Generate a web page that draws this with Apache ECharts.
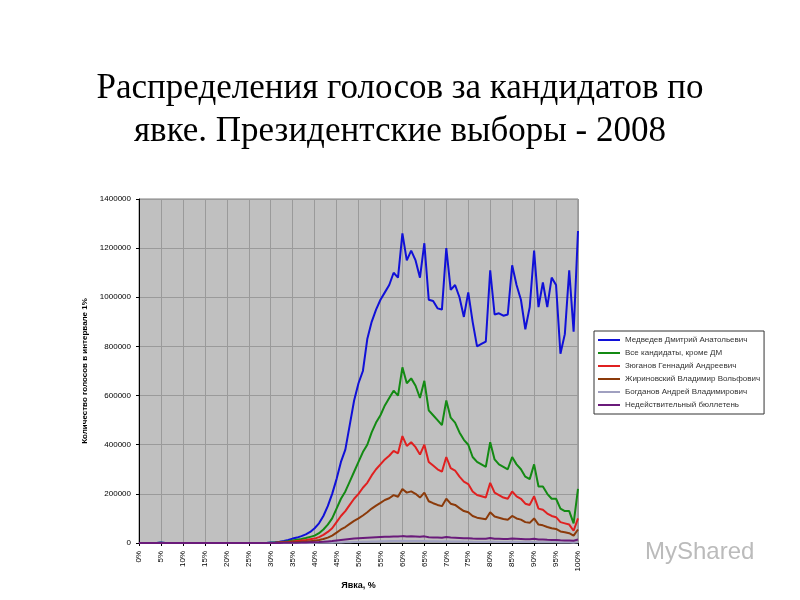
<!DOCTYPE html>
<html><head><meta charset="utf-8">
<script src="https://cdn.jsdelivr.net/npm/echarts@6/dist/echarts.min.js"></script>
<style>body{margin:0;background:#fff}#main{width:800px;height:600px}</style>
</head><body><div id="main"></div>
<script>
const turnout = Array.from({length: 101}, (_, i) => i + "%")
const medvedev = [0,0,0,0,0,2000,0,0,0,0,0,0,0,0,0,0,0,0,0,0,0,0,0,0,0,0,0,0,0,0,
  2000,3000,5000,8000,12000,18000,22000,28000,35000,45000,
  60000,80000,110000,150000,200000,260000,330000,380000,480000,580000,
  650000,700000,830000,900000,950000,990000,1020000,1050000,1100000,1080000,
  1260000,1150000,1190000,1150000,1080000,1220000,990000,985000,955000,950000,
  1200000,1030000,1050000,1000000,920000,1020000,900000,800000,810000,820000,
  1110000,930000,935000,925000,930000,1130000,1050000,990000,870000,960000,
  1190000,960000,1060000,960000,1080000,1050000,770000,850000,1110000,860000,1270000]
const allButDM = [0,0,0,0,0,1000,0,0,0,0,0,0,0,0,0,0,0,0,0,0,0,0,0,0,0,0,0,0,0,0,
  1000,2000,3000,5000,7000,10000,13000,16000,20000,25000,
  30000,40000,55000,75000,100000,140000,180000,210000,250000,290000,
  330000,370000,400000,450000,490000,520000,560000,590000,620000,600000,
  715000,650000,670000,640000,590000,660000,540000,520000,500000,480000,
  580000,510000,490000,450000,420000,400000,350000,330000,320000,310000,
  410000,340000,320000,310000,300000,350000,320000,300000,270000,260000,
  320000,230000,230000,200000,180000,180000,140000,130000,130000,80000,220000]
const zyuganov = [0,0,0,0,0,500,0,0,0,0,0,0,0,0,0,0,0,0,0,0,0,0,0,0,0,0,0,0,0,0,
  500,1000,2000,3000,4000,6000,8000,10000,12000,15000,
  18000,24000,33000,45000,60000,85000,110000,130000,155000,180000,
  200000,225000,245000,275000,300000,320000,340000,355000,375000,365000,
  435000,395000,410000,390000,360000,400000,330000,315000,300000,290000,
  350000,305000,295000,270000,250000,240000,210000,195000,190000,185000,
  245000,205000,195000,185000,180000,210000,190000,180000,160000,155000,
  190000,140000,135000,120000,110000,105000,85000,80000,75000,50000,100000]
const zhirinovsky = [0,0,0,0,0,200,0,0,0,0,0,0,0,0,0,0,0,0,0,0,0,0,0,0,0,0,0,0,0,0,
  300,500,1000,1500,2000,3000,4000,5000,6000,7500,
  9000,12000,16000,22000,30000,42000,55000,65000,78000,90000,
  100000,112000,125000,140000,152000,163000,175000,182000,195000,188000,
  220000,205000,210000,200000,185000,205000,170000,162000,155000,150000,
  180000,160000,155000,142000,130000,125000,110000,103000,100000,97000,
  125000,108000,103000,98000,95000,110000,100000,95000,85000,82000,
  100000,75000,72000,65000,60000,57000,47000,44000,40000,30000,55000]
const bogdanov = [0,0,0,0,0,0,0,0,0,0,0,0,0,0,0,0,0,0,0,0,0,0,0,0,0,0,0,0,0,0,
  0,0,0,0,0,0,0,0,0,0,
  500,700,900,1200,1500,2000,2500,3000,3500,4000,
  4500,5000,5500,6000,6500,7000,7500,7800,8000,8000,
  9000,8500,8500,8200,7800,8500,7200,7000,6800,6500,
  7500,6600,6400,6000,5600,5500,4800,4500,4400,4300,
  5500,4700,4500,4300,4200,4800,4400,4200,3800,3700,
  4500,3400,3300,3000,2800,2700,2200,2100,2000,1400,3000]
const invalid = [0,0,0,0,0,300,0,0,0,0,0,0,0,0,0,0,0,0,0,0,0,0,0,0,0,0,0,0,0,0,
  200,300,500,700,900,1200,1500,1800,2200,2700,
  3200,4000,5000,6500,8000,10000,12000,14000,16000,18000,
  19000,20000,21000,22000,23000,24000,25000,25500,26000,26000,
  28000,26500,27000,26000,25000,27000,23000,22500,22000,21500,
  24000,22000,21500,20500,19500,19500,18000,17000,17000,17000,
  20000,17500,17000,16500,16500,18000,17000,16000,15000,15000,
  17000,14000,14000,13000,12500,12500,11000,10500,10500,9000,14000]
const names = ["Медведев Дмитрий Анатольевич","Все кандидаты, кроме ДМ","Зюганов Геннадий Андреевич",
  "Жириновский Владимир Вольфович","Богданов Андрей Владимирович","Недействительный бюллетень"]
const colors = ["#1010d8","#138a13","#e02020","#8b3a0a","#a0a0c0","#6a1a7a"]
const data = [medvedev, allButDM, zyuganov, zhirinovsky, bogdanov, invalid]

const chart = echarts.init(document.getElementById("main"))
chart.setOption({
  animation: false,
  title: {
    text: "Распределения голосов за кандидатов по\nявке. Президентские выборы - 2008",
    left: "center", top: 62,
    textStyle: {fontFamily: "Liberation Serif", fontSize: 35, fontWeight: "normal", color: "#000", lineHeight: 43}
  },
  grid: {left: 139, right: 222, top: 199, bottom: 57, backgroundColor: "#c0c0c0", show: true, borderColor: "#808080"},
  legend: {
    orient: "vertical", left: 594, top: 331, itemGap: 5, itemWidth: 22, itemHeight: 2,
    backgroundColor: "#fff", borderColor: "#333", borderWidth: 1, padding: [5, 4],
    icon: "rect",
    textStyle: {fontSize: 8, color: "#333", fontFamily: "Liberation Sans"},
    data: names
  },
  xAxis: {
    type: "category", data: turnout, boundaryGap: false,
    name: "Явка, %", nameLocation: "middle", nameGap: 38,
    nameTextStyle: {fontSize: 9, fontWeight: "bold", fontFamily: "Liberation Sans"},
    axisLine: {lineStyle: {color: "#000"}},
    axisTick: {interval: 4, length: 3},
    axisLabel: {interval: 4, rotate: 90, fontSize: 8, color: "#000", fontFamily: "Liberation Sans"},
    splitLine: {show: true, interval: 4, lineStyle: {color: "#9a9a9a"}}
  },
  yAxis: {
    type: "value", min: 0, max: 1400000, interval: 200000,
    name: "Количество голосов в интервале 1%", nameLocation: "middle", nameGap: 48,
    nameTextStyle: {fontSize: 8, fontWeight: "bold", fontFamily: "Liberation Sans"},
    axisLine: {show: true, lineStyle: {color: "#000"}},
    axisTick: {show: true, length: 3},
    axisLabel: {fontSize: 8, color: "#000", fontFamily: "Liberation Sans", formatter: v => String(v)},
    splitLine: {lineStyle: {color: "#9a9a9a"}}
  },
  series: names.map((n, i) => ({
    name: n, type: "line", data: data[i], symbol: "none",
    lineStyle: {width: 2, color: colors[i]}, itemStyle: {color: colors[i]}
  })),
  graphic: [{type: "text", left: 645, top: 540,
    style: {text: "MyShared", fontSize: 24, fill: "#bbb", fontFamily: "Liberation Sans"}}]
})
</script></body></html>
